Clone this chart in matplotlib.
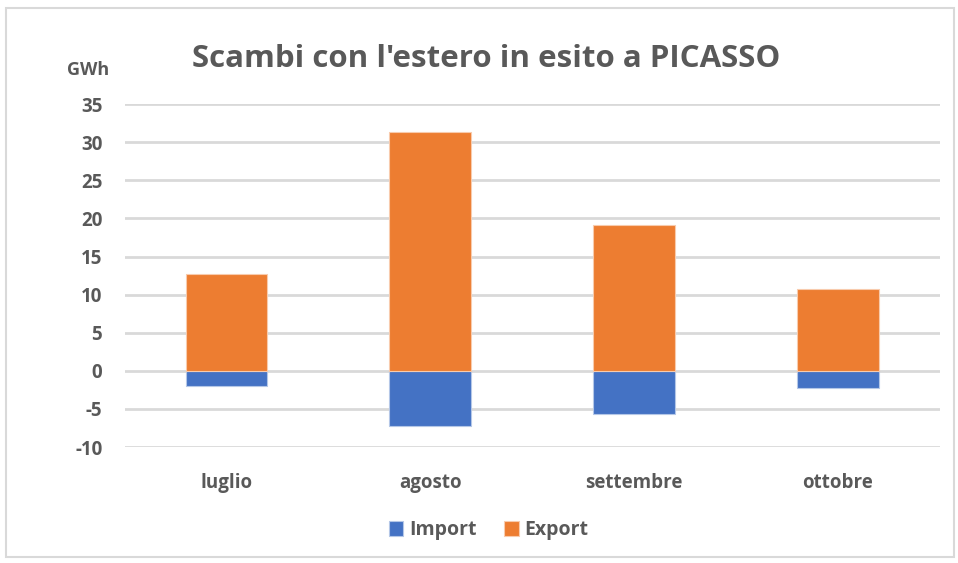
import numpy as np
import matplotlib.pyplot as plt
from matplotlib.patches import Rectangle

mesi = ['luglio', 'agosto', 'settembre', 'ottobre']
export_gwh = [12.7, 31.3, 19.1, 10.7]
import_gwh = [-2.0, -7.2, -5.7, -2.3]
yticks = [-10, -5, 0, 5, 10, 15, 20, 25, 30, 35]

grigio = '#595959'
plt.rcParams['font.family'] = ['Open Sans', 'DejaVu Sans']

fig = plt.figure(figsize=(9.58, 5.63), dpi=100)
ax = fig.add_axes([0.130, 0.206, 0.851, 0.609])

x = np.arange(len(mesi))
ax.bar(x, import_gwh, width=0.4, color='#4472C4', edgecolor='#B4C7E7', linewidth=0.8, label='Import', zorder=3)
ax.bar(x, export_gwh, width=0.4, color='#ED7D31', edgecolor='#F8CBAD', linewidth=0.8, label='Export', zorder=3)

ax.set_xlim(-0.5, 3.5)
ax.set_ylim(-10, 35)
ax.set_yticks(yticks)
ax.set_yticklabels([str(v) for v in yticks], fontsize=13.5, fontweight='bold', color=grigio)
ax.set_xticks(x)
ax.set_xticklabels(mesi, fontsize=13.5, fontweight='bold', color=grigio)
ax.tick_params(axis='both', length=0)
ax.tick_params(axis='y', pad=16)
ax.tick_params(axis='x', pad=19)
ax.grid(axis='y', color='#D9D9D9', linewidth=2, zorder=0)
for s in ax.spines.values():
    s.set_visible(False)

fig.text(0.508, 0.895, "Scambi con l'estero in esito a PICASSO", ha='center', va='center',
         fontsize=22.5, fontweight='bold', color=grigio)
fig.text(0.092, 0.876, 'GWh', ha='center', va='center', fontsize=13, fontweight='bold', color=grigio)

leg = fig.legend(loc='center', bbox_to_anchor=(0.51, 0.058), ncol=2, frameon=False,
                 fontsize=14, handlelength=0.75, handleheight=0.75, columnspacing=1.4, handletextpad=0.3)
for t in leg.get_texts():
    t.set_color(grigio)
    t.set_fontweight('bold')

fig.patches.append(Rectangle((0.006, 0.01), 0.99, 0.975, transform=fig.transFigure,
                             fill=False, edgecolor='#D9D9D9', linewidth=1.5))

fig.savefig('out.png', dpi=100)
